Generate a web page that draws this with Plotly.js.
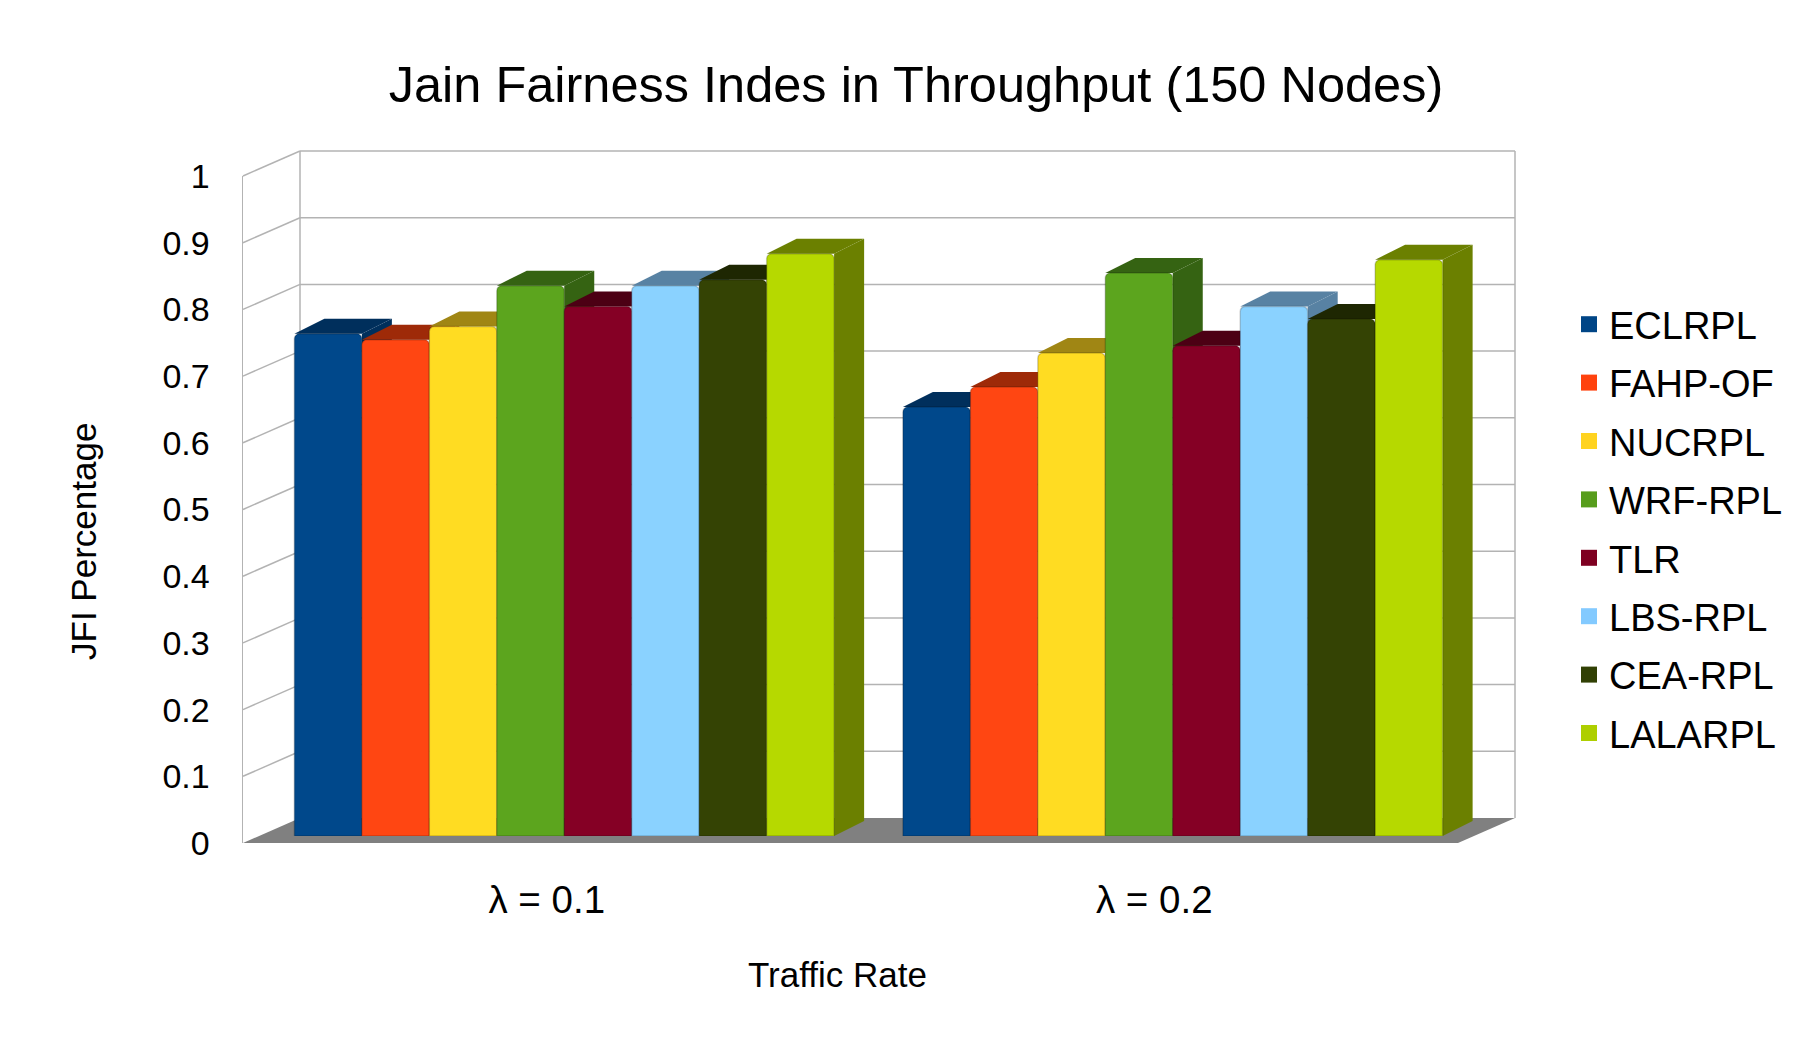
<!DOCTYPE html>
<html><head><meta charset="utf-8">
<script src="https://cdn.plot.ly/plotly-3.0.1.min.js"></script>
<style>html,body{margin:0;padding:0;background:#fff;} #chart{width:1814px;height:1053px;}</style>
</head><body><div id="chart"></div>
<script>
// ---------- data ----------
const categories = ['λ = 0.1', 'λ = 0.2'];
const seriesNames = ['ECLRPL', 'FAHP-OF', 'NUCRPL', 'WRF-RPL', 'TLR', 'LBS-RPL', 'CEA-RPL', 'LALARPL'];
const ECLRPL  = [0.753, 0.643];
const FAHP_OF = [0.744, 0.673];
const NUCRPL  = [0.764, 0.724];
const WRF_RPL = [0.825, 0.844];
const TLR     = [0.794, 0.735];
const LBS_RPL = [0.825, 0.794];
const CEA_RPL = [0.834, 0.775];
const LALARPL = [0.873, 0.864];
const yTickValues = [0, 0.1, 0.2, 0.3, 0.4, 0.5, 0.6, 0.7, 0.8, 0.9, 1];
const yTickLabels = ['0', '0.1', '0.2', '0.3', '0.4', '0.5', '0.6', '0.7', '0.8', '0.9', '1'];

const seriesValues = [ECLRPL, FAHP_OF, NUCRPL, WRF_RPL, TLR, LBS_RPL, CEA_RPL, LALARPL];

// ---------- styles ----------
const legendColors = ['#004586', '#ff420e', '#ffd320', '#579d1c', '#7e0021', '#83caff', '#314004', '#aecf00'];
const barColors    = ['#00488b', '#ff4612', '#ffdc22', '#5ca51e', '#850025', '#8ad2ff', '#344304', '#b6d900'];
const shadeColors  = ['#002f5c', '#9e2a08', '#a08614', '#356312', '#4c0014', '#5882a3', '#1e2702', '#6b8000'];
const GRID = '#b3b3b3';

// ---------- geometry helpers (pixel -> paper) ----------
const W = 1814, H = 1053;
const fx = p => p / W;
const fy = p => 1 - p / H;
const FRONT_L = 243, FRONT_R = 1458, BACK_L = 300, BACK_R = 1515;
const FRONT_Y0 = 843, BACK_Y0 = 818, AXIS_H = 667;
const yFront = v => fy(FRONT_Y0 - AXIS_H * v);   // value on the front (label) plane
const yBack  = v => fy(BACK_Y0 - AXIS_H * v);    // value on the back wall
const BARGAP = 0.113;
const NB = seriesNames.length;
const groupW = 1 - BARGAP, bw = groupW / NB;
const DX = 30 / 608.5, DY = 15 / 667;   // bar depth, in data units

const shapes = [];
// back wall grid + left wall slanted lines
yTickValues.forEach(v => {
  if (v <= 0) return;
  shapes.push({type: 'line', xref: 'paper', yref: 'paper', layer: 'below',
    x0: fx(BACK_L), x1: fx(BACK_R), y0: yBack(v), y1: yBack(v), line: {color: GRID, width: 1.5}});
  shapes.push({type: 'line', xref: 'paper', yref: 'paper', layer: 'below',
    x0: fx(FRONT_L), x1: fx(BACK_L), y0: yFront(v), y1: yBack(v), line: {color: GRID, width: 1.5}});
});
[BACK_L, BACK_R].forEach(xp => shapes.push({type: 'line', xref: 'paper', yref: 'paper', layer: 'below',
  x0: fx(xp), x1: fx(xp), y0: yBack(0), y1: yBack(1), line: {color: GRID, width: 1.5}}));
// floor
shapes.push({type: 'path', xref: 'paper', yref: 'paper', layer: 'below',
  path: `M${fx(FRONT_L)},${yFront(0)} L${fx(FRONT_R)},${yFront(0)} L${fx(BACK_R)},${yBack(0)} L${fx(BACK_L)},${yBack(0)} Z`,
  fillcolor: '#808080', line: {width: 0}});
// bar depth faces (sides + tops), painter's order
categories.forEach((c, j) => {
  seriesValues.forEach((vals, i) => {
    const xl = j - groupW / 2 + i * bw, xr = xl + bw, v = vals[j];
    shapes.push({type: 'path', xref: 'x', yref: 'y', layer: 'below',
      path: `M${xr},0 L${xr + DX},${DY} L${xr + DX},${v + DY} L${xr},${v} Z`,
      fillcolor: shadeColors[i], line: {width: 0}});
    shapes.push({type: 'path', xref: 'x', yref: 'y', layer: 'below',
      path: `M${xl},${v} L${xl + DX},${v + DY} L${xr + DX},${v + DY} L${xr},${v} Z`,
      fillcolor: shadeColors[i], line: {width: 0}});
  });
});

// ---------- traces ----------
const xs = categories.map((c, j) => j);
const traces = [];
seriesValues.forEach((vals, i) => {
  traces.push({type: 'bar', x: xs, y: vals, name: seriesNames[i], xaxis: 'x', yaxis: 'y',
    marker: {color: barColors[i], line: {color: 'rgba(0,0,0,0.18)', width: 1.5}},
    showlegend: false, hoverinfo: 'y'});
});
seriesNames.forEach((n, i) => {
  traces.push({type: 'scatter', mode: 'markers', x: [null], y: [null], name: n, xaxis: 'x', yaxis: 'y',
    legendgroup: 'g' + i, marker: {symbol: 'square', size: 16, color: legendColors[i]}, hoverinfo: 'skip'});
});
// anchor trace for the front label axes
traces.push({type: 'scatter', mode: 'markers', x: [0], y: [0], xaxis: 'x3', yaxis: 'y2',
  marker: {opacity: 0}, showlegend: false, hoverinfo: 'skip'});

const layout = {
  width: W, height: H,
  margin: {l: 0, r: 0, t: 0, b: 0},
  paper_bgcolor: '#ffffff', plot_bgcolor: 'rgba(0,0,0,0)',
  font: {family: 'Liberation Sans, Arial, sans-serif', color: '#000000'},
  title: {text: 'Jain Fairness Indes in Throughput (150 Nodes)', font: {size: 50.5, color: '#000'},
    xref: 'paper', yref: 'paper', x: fx(916), xanchor: 'center', y: fy(84), yanchor: 'middle'},
  barmode: 'group', bargap: BARGAP, bargroupgap: 0, barcornerradius: 5,
  xaxis: {domain: [fx(260), fx(1477)], range: [-0.5, 1.5], visible: false, anchor: 'y', fixedrange: true},
  yaxis: {domain: [fy(836), fy(169)], range: [0, 1], visible: false, anchor: 'x', fixedrange: true},
  xaxis3: {domain: [fx(FRONT_L), fx(FRONT_R)], range: [-0.5, 1.5], anchor: 'y2',
    tickmode: 'array', tickvals: xs, ticktext: categories, showgrid: false, zeroline: false,
    showline: false, ticks: '', ticklabelstandoff: 30, tickfont: {size: 38.5}, fixedrange: true},
  yaxis2: {domain: [fy(FRONT_Y0), fy(FRONT_Y0 - AXIS_H)], range: [0, 1], anchor: 'x3',
    tickmode: 'array', tickvals: yTickValues, ticktext: yTickLabels, showgrid: false, zeroline: false,
    showline: true, linecolor: GRID, linewidth: 1.5, ticks: '', ticklabelstandoff: 25,
    tickfont: {size: 34}, fixedrange: true},
  legend: {x: fx(1569), y: fy(293), xanchor: 'left', yanchor: 'top', font: {size: 38},
    tracegroupgap: 6, bgcolor: 'rgba(0,0,0,0)', borderwidth: 0, traceorder: 'grouped'},
  annotations: [
    {text: 'JFI Percentage', xref: 'paper', yref: 'paper', x: fx(83), y: fy(542), textangle: -90,
      showarrow: false, xanchor: 'center', yanchor: 'middle', font: {size: 35}},
    {text: 'Traffic Rate', xref: 'paper', yref: 'paper', x: fx(837), y: fy(974),
      showarrow: false, xanchor: 'center', yanchor: 'middle', font: {size: 35}}
  ],
  shapes: shapes
};

Plotly.newPlot('chart', traces, layout, {displayModeBar: false, staticPlot: true});
</script>
</body></html>
